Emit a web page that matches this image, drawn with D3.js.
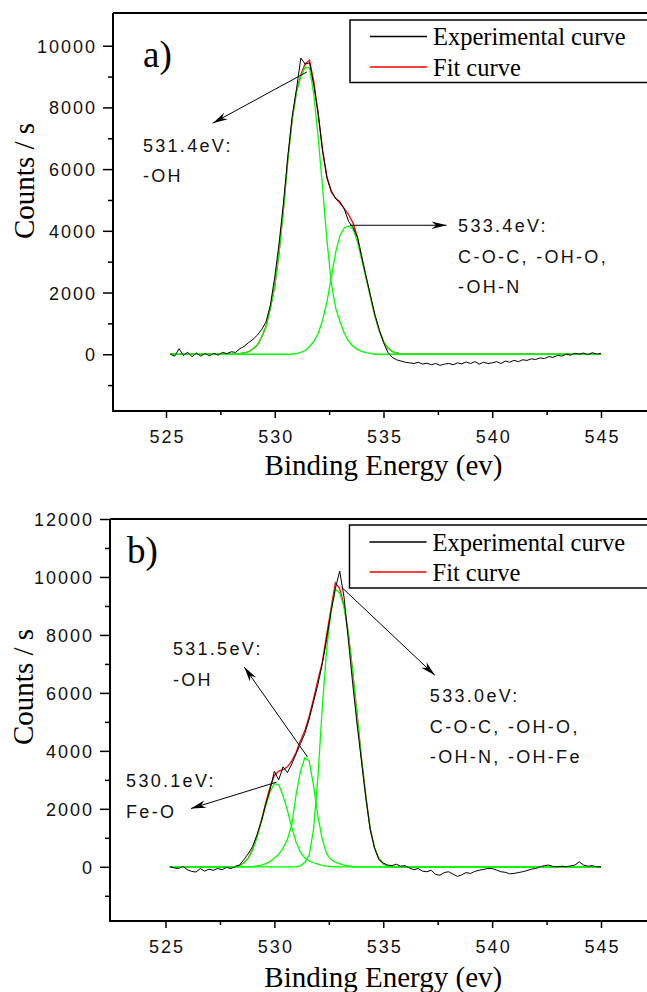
<!DOCTYPE html>
<html><head><meta charset="utf-8">
<script src="https://cdn.jsdelivr.net/npm/d3@7"></script>
<style>body{margin:0;background:#fff}svg{display:block}</style>
</head><body>
<svg id="c" width="647" height="992"></svg>
<script>
// ---------- DATA ----------
const expEnergy = [
525.2,525.4,525.6,525.8,526.0,526.2,526.4,526.6,526.8,527.0,
527.2,527.4,527.6,527.8,528.0,528.2,528.4,528.6,528.8,529.0,
529.2,529.4,529.6,529.8,530.0,530.2,530.4,530.6,530.8,531.0,
531.2,531.4,531.6,531.8,532.0,532.2,532.4,532.6,532.8,533.0,
533.2,533.4,533.6,533.8,534.0,534.2,534.4,534.6,534.8,535.0,
535.2,535.4,535.6,535.8,536.0,536.2,536.4,536.6,536.8,537.0,
537.2,537.4,537.6,537.8,538.0,538.2,538.4,538.6,538.8,539.0,
539.2,539.4,539.6,539.8,540.0,540.2,540.4,540.6,540.8,541.0,
541.2,541.4,541.6,541.8,542.0,542.2,542.4,542.6,542.8,543.0,
543.2,543.4,543.6,543.8,544.0,544.2,544.4,544.6,544.8,545.0];

const expA = [
0,-60,180,-40,60,-80,40,-60,20,-50,
30,-30,60,20,80,60,180,260,380,480,
620,800,1050,1600,2500,3600,4900,6400,7700,8600,
9600,9400,9450,8700,7800,6600,5700,5300,5050,4950,
4700,4300,4100,3800,3150,2520,1900,1300,800,380,
60,-100,-180,-220,-260,-280,-300,-260,-320,-290,
-340,-300,-360,-320,-300,-340,-280,-310,-250,-300,
-240,-320,-260,-300,-280,-240,-300,-220,-260,-200,
-240,-180,-200,-150,-170,-120,-140,-80,-100,-40,
-60,0,-30,30,0,40,-20,50,0,30];

const expB = [
0,-40,-60,20,-100,-160,-180,-60,-150,-80,
-120,-60,-100,-20,-60,0,60,250,450,700,
1100,1550,2150,2650,3300,3000,3450,3250,3550,3900,
4250,4600,5100,5700,6300,7000,7850,8800,9600,10200,
9300,7800,6300,4900,3650,2400,1300,650,250,130,
60,40,90,20,40,-40,-100,-60,-150,-170,
-120,-260,-290,-200,-170,-250,-330,-280,-200,-230,
-160,-120,-90,-60,-60,-110,-170,-190,-240,-230,
-200,-170,-130,-80,-60,0,40,60,10,0,
20,0,30,60,170,60,20,40,0,0];

// panel a fit + components
const fitAEnergy = [525.2,528.0,528.2,528.4,528.6,528.8,529.0,529.2,529.4,529.6,529.8,530.0,530.2,530.4,530.6,530.8,531.0,531.2,531.4,531.6,531.8,532.0,532.2,532.4,532.6,532.8,533.0,533.2,533.4,533.6,533.8,534.0,534.2,534.4,534.6,534.8,535.0,535.2,535.4,535.6,535.8,536.0,545.0];
const fitA = [0,0,10,20,45,80,170,300,560,900,1500,2200,3300,4700,6300,7600,8520,9060,9420,9530,8820,7750,6600,5750,5250,5050,4900,4720,4520,4250,3800,3140,2500,1875,1250,780,420,200,90,40,10,0,0];

const compA1Energy = [525.2,528.0,528.2,528.4,528.6,528.8,529.0,529.2,529.4,529.6,529.8,530.0,530.2,530.4,530.6,530.8,531.0,531.2,531.4,531.6,531.8,532.0,532.2,532.4,532.6,532.8,533.0,533.2,533.4,533.6,533.8,534.0,534.2,534.4,534.6,545.0];
const compA1 = [0,0,10,20,45,80,170,300,560,900,1500,2200,3300,4700,6300,7600,8500,9000,9300,9280,8400,7000,5400,3700,2300,1500,1050,680,420,260,150,90,50,25,0,0];

const compA2Energy = [525.2,530.8,531.0,531.2,531.4,531.6,531.8,532.0,532.2,532.4,532.6,532.8,533.0,533.2,533.4,533.6,533.8,534.0,534.2,534.4,534.6,534.8,535.0,535.2,535.4,535.6,535.8,536.0,545.0];
const compA2 = [0,0,20,60,120,250,420,680,1100,1700,2500,3300,3850,4100,4160,4050,3650,3050,2450,1850,1250,780,420,200,90,40,10,0,0];

// panel b fit + components
const fitBEnergy = [525.2,528.0,528.2,528.4,528.6,528.8,529.0,529.2,529.4,529.6,529.8,530.0,530.2,530.4,530.6,530.8,531.0,531.2,531.4,531.6,531.8,532.0,532.2,532.4,532.6,532.8,533.0,533.2,533.4,533.6,533.8,534.0,534.2,534.4,534.6,534.8,535.0,535.2,535.4,545.0];
const fitB = [0,0,15,40,130,300,600,1050,1600,2200,2750,3150,3300,3350,3450,3650,3950,4350,4700,5200,5800,6450,7050,8000,8900,9800,9600,9000,8050,6700,5250,3750,2420,1310,660,290,110,35,0,0];

const compB1Energy = [525.2,528.0,528.2,528.4,528.6,528.8,529.0,529.2,529.4,529.6,529.8,530.0,530.2,530.4,530.6,530.8,531.0,531.2,531.4,531.6,531.8,532.0,532.2,532.4,532.6,532.8,545.0];
const compB1 = [0,0,15,40,130,300,580,1000,1550,2100,2580,2870,2840,2450,1950,1350,850,500,300,200,140,90,50,25,10,0,0];

const compB2Energy = [525.2,528.8,529.0,529.2,529.4,529.6,529.8,530.0,530.2,530.4,530.6,530.8,531.0,531.2,531.4,531.6,531.8,532.0,532.2,532.4,532.6,532.8,533.0,533.2,533.4,533.6,533.8,545.0];
const compB2 = [0,0,10,30,60,110,180,300,430,650,950,1450,2500,3300,3770,3650,2800,1750,950,450,250,160,110,60,30,10,0,0];

const compB3Energy = [525.2,531.0,531.2,531.4,531.6,531.8,532.0,532.2,532.4,532.6,532.8,533.0,533.2,533.4,533.6,533.8,534.0,534.2,534.4,534.6,534.8,535.0,535.2,535.4,545.0];
const compB3 = [0,0,40,150,400,1300,3100,5500,7500,8800,9580,9450,8950,8000,6700,5200,3700,2400,1300,650,280,100,30,0,0];

const xTicks = [525,530,535,540,545];
const xMinorTicks = [527.5,532.5,537.5,542.5];
const yTicksA = [0,2000,4000,6000,8000,10000];
const yMinorA = [-1000,1000,3000,5000,7000,9000];
const yTicksB = [0,2000,4000,6000,8000,10000,12000];
const yMinorB = [-1000,1000,3000,5000,7000,9000,11000];

const legendLabels = ["Experimental curve","Fit curve"];
const xTitle = "Binding Energy (ev)";
const yTitle = "Counts / s";

// annotations (data coordinates)
const annA = [
  {from:[531.48,9150], to:[527.15,7490], text:["531.4eV:","-OH"], at:[523.94,6560]},
  {from:[533.46,4180], to:[537.90,4180], text:["533.4eV:","C-O-C, -OH-O,","-OH-N"], at:[538.43,3960]}
];
const annB = [
  {from:[531.53,3783], to:[528.62,6890], text:["531.5eV:","-OH"], at:[525.34,7300]},
  {from:[530.10,2921], to:[526.17,2010], text:["530.1eV:","Fe-O"], at:[523.19,2748]},
  {from:[533.09,9645], to:[537.37,6610], text:["533.0eV:","C-O-C, -OH-O,","-OH-N, -OH-Fe"], at:[537.14,5679]}
];

// ---------- LAYOUT ----------
const panels = [
  {label:"a)", labelPos:[143,67], left:113, top:13, bottom:411,
   xRange:[166,601], yDomain:[-1840,11060],
   yTicks:yTicksA, yMinor:yMinorA, tickLabelY:442.5, titleY:475, yTitlePos:[34,181],
   exp:expA, fit:[fitAEnergy,fitA], comps:[[compA1Energy,compA1],[compA2Energy,compA2]],
   legend:{x:350,y:20,h:62.5,rows:[45,75.5]}, ann:annA},
  {label:"b)", labelPos:[127,563], left:110, top:519, bottom:921,
   xRange:[165.5,601], yDomain:[-1870,12000],
   yTicks:yTicksB, yMinor:yMinorB, tickLabelY:953, titleY:987, yTitlePos:[33,687],
   exp:expB, fit:[fitBEnergy,fitB], comps:[[compB1Energy,compB1],[compB2Energy,compB2],[compB3Energy,compB3]],
   legend:{x:349.5,y:525,h:63,rows:[550.5,580.5]}, ann:annB}
];

const SANS = "'Liberation Sans', Arial, sans-serif";
const SERIF = "'Liberation Serif', 'Times New Roman', serif";

const svg = d3.select("#c");

panels.forEach(p => {
  const g = svg.append("g");
  const x = d3.scaleLinear().domain([525,545]).range(p.xRange);
  const y = d3.scaleLinear().domain(p.yDomain).range([p.bottom, p.top]);
  const line = d3.line().x(d => x(d[0])).y(d => y(d[1]));

  // fit (red)
  g.append("path").datum(p.fit[0].map((e,i)=>[e,p.fit[1][i]]))
    .attr("d", line).attr("fill","none").attr("stroke","#ff0000").attr("stroke-width",1.3);
  // components (green)
  p.comps.forEach(c => {
    g.append("path").datum(c[0].map((e,i)=>[e,c[1][i]]))
      .attr("d", line).attr("fill","none").attr("stroke","#00ff00").attr("stroke-width",1.3);
  });
  // experimental (black)
  g.append("path").datum(expEnergy.map((e,i)=>[e,p.exp[i]]))
    .attr("d", line).attr("fill","none").attr("stroke","#000").attr("stroke-width",1);

  // frame
  g.append("path").attr("d", `M${p.left},${p.top}H700M${p.left},${p.top}V${p.bottom}H700`)
    .attr("fill","none").attr("stroke","#000").attr("stroke-width",2);

  // y axis ticks
  const yAx = g.append("g").attr("transform",`translate(${p.left},0)`)
    .call(d3.axisLeft(y).tickValues(p.yTicks).tickSize(10).tickFormat(d3.format("d")));
  yAx.select(".domain").remove();
  yAx.selectAll(".tick line").attr("stroke","#000").attr("stroke-width",1.5);
  yAx.selectAll(".tick text").attr("x",-16).attr("dy","0.36em")
    .attr("font-family",SANS).attr("font-size",18).attr("letter-spacing","2px").attr("fill","#111");
  const yMi = g.append("g").attr("transform",`translate(${p.left},0)`)
    .call(d3.axisLeft(y).tickValues(p.yMinor).tickSize(5).tickFormat(""));
  yMi.select(".domain").remove();
  yMi.selectAll(".tick line").attr("stroke","#000").attr("stroke-width",1.5);

  // x axis ticks
  const xAx = g.append("g").attr("transform",`translate(0,${p.bottom})`)
    .call(d3.axisBottom(x).tickValues(xTicks).tickSize(7).tickFormat(d3.format("d")));
  xAx.select(".domain").remove();
  xAx.selectAll(".tick line").attr("stroke","#000").attr("stroke-width",1.5);
  xAx.selectAll(".tick text").attr("y", p.tickLabelY - p.bottom).attr("dy",0).attr("dx",1)
    .attr("font-family",SANS).attr("font-size",18).attr("letter-spacing","2px").attr("fill","#111");
  const xMi = g.append("g").attr("transform",`translate(0,${p.bottom})`)
    .call(d3.axisBottom(x).tickValues(xMinorTicks).tickSize(4).tickFormat(""));
  xMi.select(".domain").remove();
  xMi.selectAll(".tick line").attr("stroke","#000").attr("stroke-width",1.5);

  // titles
  g.append("text").attr("x", x(535)).attr("y", p.titleY).attr("text-anchor","middle")
    .attr("font-family",SERIF).attr("font-size",29).text(xTitle);
  g.append("text").attr("transform",`translate(${p.yTitlePos[0]},${p.yTitlePos[1]}) rotate(-90)`)
    .attr("text-anchor","middle").attr("font-family",SERIF).attr("font-size",29).text(yTitle);

  // panel label
  g.append("text").attr("x",p.labelPos[0]).attr("y",p.labelPos[1])
    .attr("font-family",SERIF).attr("font-size",37).text(p.label);

  // legend
  const L = p.legend;
  g.append("rect").attr("x",L.x).attr("y",L.y).attr("width",400).attr("height",L.h)
    .attr("fill","#fff").attr("stroke","#000").attr("stroke-width",1.5);
  const cols = ["#000","#ff0000"];
  legendLabels.forEach((t,i) => {
    g.append("line").attr("x1",L.x+20).attr("x2",L.x+77).attr("y1",L.rows[i]-8.5).attr("y2",L.rows[i]-8.5)
      .attr("stroke",cols[i]).attr("stroke-width",1.3);
    g.append("text").attr("x",L.x+83).attr("y",L.rows[i]).attr("font-family",SERIF)
      .attr("font-size",24.5).text(t);
  });

  // annotations
  p.ann.forEach(a => {
    const x1 = x(a.from[0]), y1 = y(a.from[1]), x2 = x(a.to[0]), y2 = y(a.to[1]);
    g.append("line").attr("x1",x1).attr("y1",y1).attr("x2",x2).attr("y2",y2)
      .attr("stroke","#000").attr("stroke-width",1);
    const ang = Math.atan2(y2-y1, x2-x1);
    const len = 15, hw = 3.8;
    const bx = x2 - len*Math.cos(ang), by = y2 - len*Math.sin(ang);
    const nx = -Math.sin(ang), ny = Math.cos(ang);
    g.append("path").attr("d",`M${x2},${y2}L${bx+nx*hw},${by+ny*hw}L${x2-0.7*len*Math.cos(ang)},${y2-0.7*len*Math.sin(ang)}L${bx-nx*hw},${by-ny*hw}Z`)
      .attr("fill","#000");
    const tx = x(a.at[0]), ty0 = y(a.at[1]);
    a.text.forEach((t,i) => {
      g.append("text").attr("x",tx).attr("y",ty0 + i*30.5).attr("font-family",SANS)
        .attr("font-size",18).attr("letter-spacing","2.3px").attr("fill","#111").text(t);
    });
  });
});
</script>
</body></html>
